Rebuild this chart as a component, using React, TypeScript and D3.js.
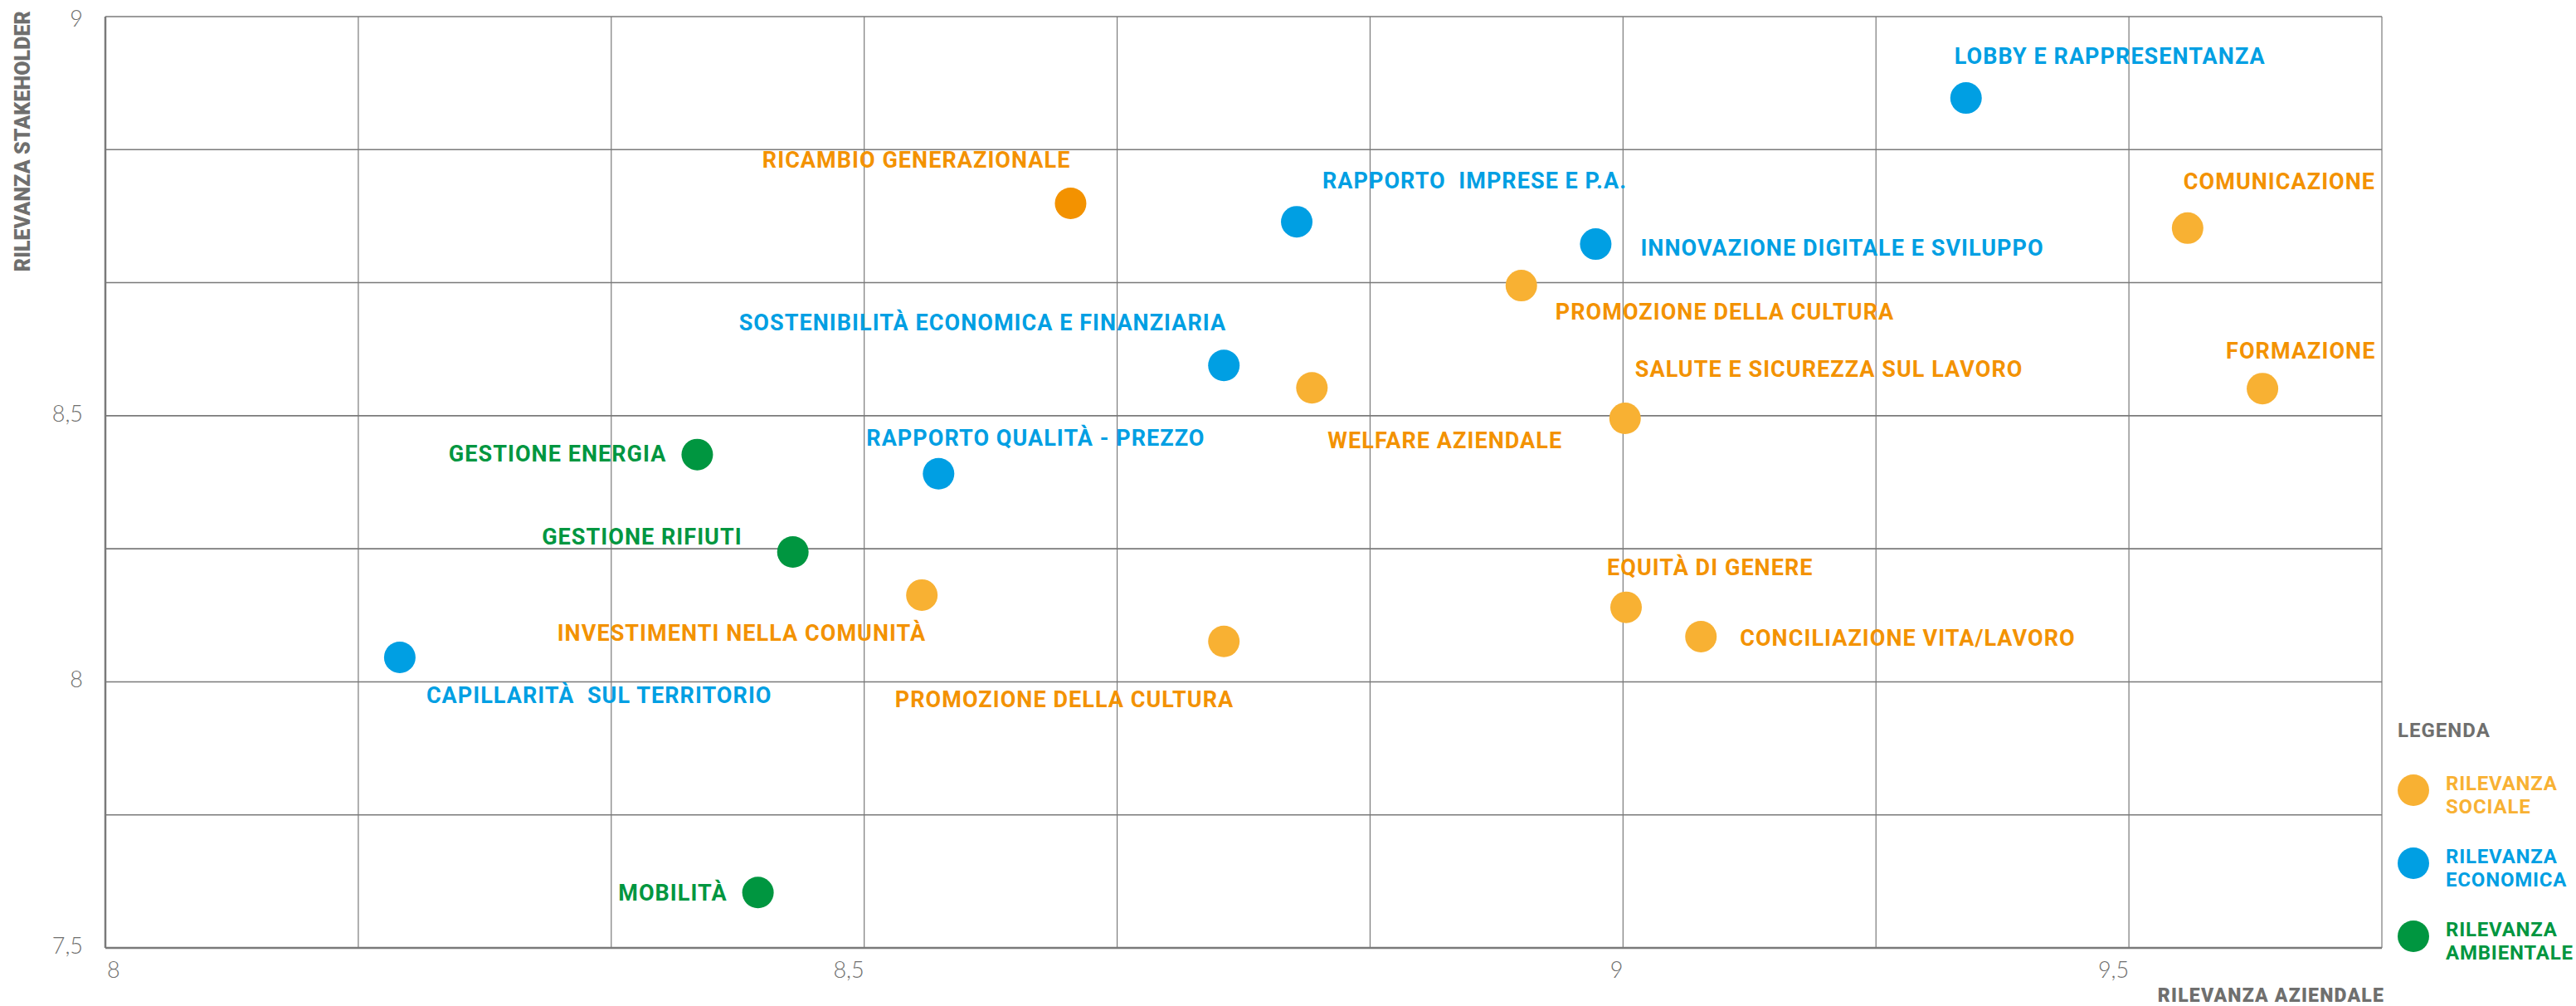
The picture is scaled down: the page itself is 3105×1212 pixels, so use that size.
import React from "react";
import * as d3 from "d3";

// ---- data ----
const topics = [
  "LOBBY E RAPPRESENTANZA",
  "COMUNICAZIONE",
  "RICAMBIO GENERAZIONALE",
  "RAPPORTO  IMPRESE E P.A.",
  "SOSTENIBILITÀ ECONOMICA E FINANZIARIA",
  "WELFARE AZIENDALE",
  "INNOVAZIONE DIGITALE E SVILUPPO",
  "PROMOZIONE DELLA CULTURA",
  "SALUTE E SICUREZZA SUL LAVORO",
  "FORMAZIONE",
  "MOBILITÀ",
  "CAPILLARITÀ  SUL TERRITORIO",
  "GESTIONE ENERGIA",
  "GESTIONE RIFIUTI",
  "RAPPORTO QUALITÀ - PREZZO",
  "INVESTIMENTI NELLA COMUNITÀ",
  "PROMOZIONE DELLA CULTURA",
  "EQUITÀ DI GENERE",
  "CONCILIAZIONE VITA/LAVORO",
];
const categories = [
  "economica", "sociale", "sociale", "economica", "economica", "sociale",
  "economica", "sociale", "sociale", "sociale", "ambientale", "economica",
  "ambientale", "ambientale", "economica", "sociale", "sociale", "sociale", "sociale",
];
const rilevanzaAziendale = [
  9.339, 9.558, 8.636, 8.785, 8.737, 8.795, 8.982, 8.933, 9.002, 9.632,
  8.43, 8.194, 8.39, 8.453, 8.549, 8.538, 8.737, 9.003, 9.077,
];
const rilevanzaStakeholder = [
  8.898, 8.735, 8.766, 8.743, 8.563, 8.535, 8.715, 8.663, 8.495, 8.534,
  7.604, 8.046, 8.427, 8.244, 8.391, 8.163, 8.076, 8.14, 8.085,
];
const highlighted = ["RICAMBIO GENERAZIONALE"];
const xTickValues = [8, 8.5, 9, 9.5];
const xTickLabels = ["8", "8,5", "9", "9,5"];
const yTickValues = [9, 8.5, 8, 7.5];
const yTickLabels = ["9", "8,5", "8", "7,5"];
const legendKeys = ["sociale", "economica", "ambientale"];
const legendLines = [
  ["RILEVANZA", "SOCIALE"],
  ["RILEVANZA", "ECONOMICA"],
  ["RILEVANZA", "AMBIENTALE"],
];

// ---- label layout (offsets from the dot centre, px) ----
const labelLayout: [number, number, string][] = [
  [-14, -41, "start"],
  [-5, -47, "start"],
  [0, -43, "end"],
  [31, -40, "start"],
  [3, -42, "end"],
  [19, 73, "start"],
  [54, 14, "start"],
  [41, 41, "start"],
  [12, -50, "start"],
  [-44, -36, "start"],
  [-37, 10, "end"],
  [32, 55, "start"],
  [-37, 8, "end"],
  [-61, -9, "end"],
  [-87, -34, "start"],
  [5, 55, "end"],
  [12, 79, "end"],
  [-23, -39, "start"],
  [47, 11, "start"],
];

const dotColor: Record<string, string> = {
  sociale: "#F8B133",
  economica: "#009FE3",
  ambientale: "#009640",
};
const textColor: Record<string, string> = {
  sociale: "#F39200",
  economica: "#009FE3",
  ambientale: "#009640",
};
const legendTextColor: Record<string, string> = {
  sociale: "#F8B133",
  economica: "#009FE3",
  ambientale: "#009640",
};
const GRAY = "#6F6F6E";

export default function App() {
  const W = 3105, H = 1212;
  const left = 127, right = 2871, top = 20, bottom = 1142;
  const u = (right - left) / 9;
  const v = (bottom - top) / 7;

  const x = d3.scaleLinear()
    .domain([8, 8.5, 9, 9.5, 9.75])
    .range([left, left + 3 * u, left + 6 * u, left + 8 * u, left + 9 * u]);
  const y = d3.scaleLinear()
    .domain([9, 8.5, 8, 7.5])
    .range([top, top + 3 * v, top + 5 * v, top + 7 * v]);

  const vLines = d3.range(10).map((i) => left + i * u);
  const hLines = d3.range(8).map((i) => top + i * v);

  const labelFont = "Roboto, 'Open Sans', sans-serif";
  const r = 19;

  return (
    <svg
      width={W}
      height={H}
      style={{ position: "absolute", left: 0, top: 0, background: "#fff" }}
    >
      {/* grid */}
      <g>
        {hLines.map((yy, i) => (
          <line key={"h" + i} x1={left} x2={right} y1={yy} y2={yy}
            stroke="#7a7a7a" strokeWidth={i === 7 ? 2.5 : 1.6} />
        ))}
        {vLines.map((xx, i) => (
          <line key={"v" + i} x1={xx} x2={xx} y1={top} y2={bottom}
            stroke="#7a7a7a" strokeWidth={i === 0 ? 2.5 : 1.2} />
        ))}
      </g>

      {/* ticks */}
      <g fontFamily="Lato, 'Open Sans', sans-serif" fontWeight={300} fontSize={27} fill={GRAY}>
        {xTickValues.map((t, i) => (
          <text key={"xt" + i} x={x(t) + (i === 0 ? 2 : 0)} y={1178}
            textAnchor={i === 0 ? "start" : "end"}>{xTickLabels[i]}</text>
        ))}
        {yTickValues.map((t, i) => (
          <text key={"yt" + i} x={100} y={Math.max(y(t) + 7, 32)}
            textAnchor="end">{yTickLabels[i]}</text>
        ))}
      </g>

      {/* axis titles */}
      <text transform={`translate(36,13) rotate(-90)`} textAnchor="end"
        fontFamily={labelFont} fontWeight={900} fontSize={25} letterSpacing={0.1}
        fill={GRAY}>RILEVANZA STAKEHOLDER</text>
      <text x={2874} y={1207} textAnchor="end"
        fontFamily={labelFont} fontWeight={900} fontSize={23} letterSpacing={1.2}
        fill={GRAY}>RILEVANZA AZIENDALE</text>

      {/* points */}
      <g>
        {topics.map((name, i) => {
          const cx = x(rilevanzaAziendale[i]);
          const cy = y(rilevanzaStakeholder[i]);
          const cat = categories[i];
          const hl = highlighted.includes(name);
          const [dx, dy, anchor] = labelLayout[i];
          return (
            <g key={"p" + i}>
              <circle cx={cx} cy={cy} r={r} fill={hl ? "#F39200" : dotColor[cat]} />
              <text x={cx + dx} y={cy + dy} textAnchor={anchor as any}
                fontFamily={labelFont} fontWeight={700} fontSize={27}
                letterSpacing={1.05} fill={textColor[cat]}
                style={{ whiteSpace: "pre" }}>{name}</text>
            </g>
          );
        })}
      </g>

      {/* legend */}
      <g fontFamily={labelFont}>
        <text x={2890} y={888} fontWeight={700} fontSize={24} letterSpacing={1}
          fill={GRAY}>LEGENDA</text>
        {legendKeys.map((k, i) => {
          const cy = 952 + i * 88;
          return (
            <g key={"l" + k}>
              <circle cx={2909} cy={cy} r={r} fill={dotColor[k]} />
              {legendLines[i].map((ln, j) => (
                <text key={j} x={2948} y={cy + j * 28} fontWeight={700} fontSize={24}
                  letterSpacing={0.8} fill={legendTextColor[k]}>{ln}</text>
              ))}
            </g>
          );
        })}
      </g>
    </svg>
  );
}
